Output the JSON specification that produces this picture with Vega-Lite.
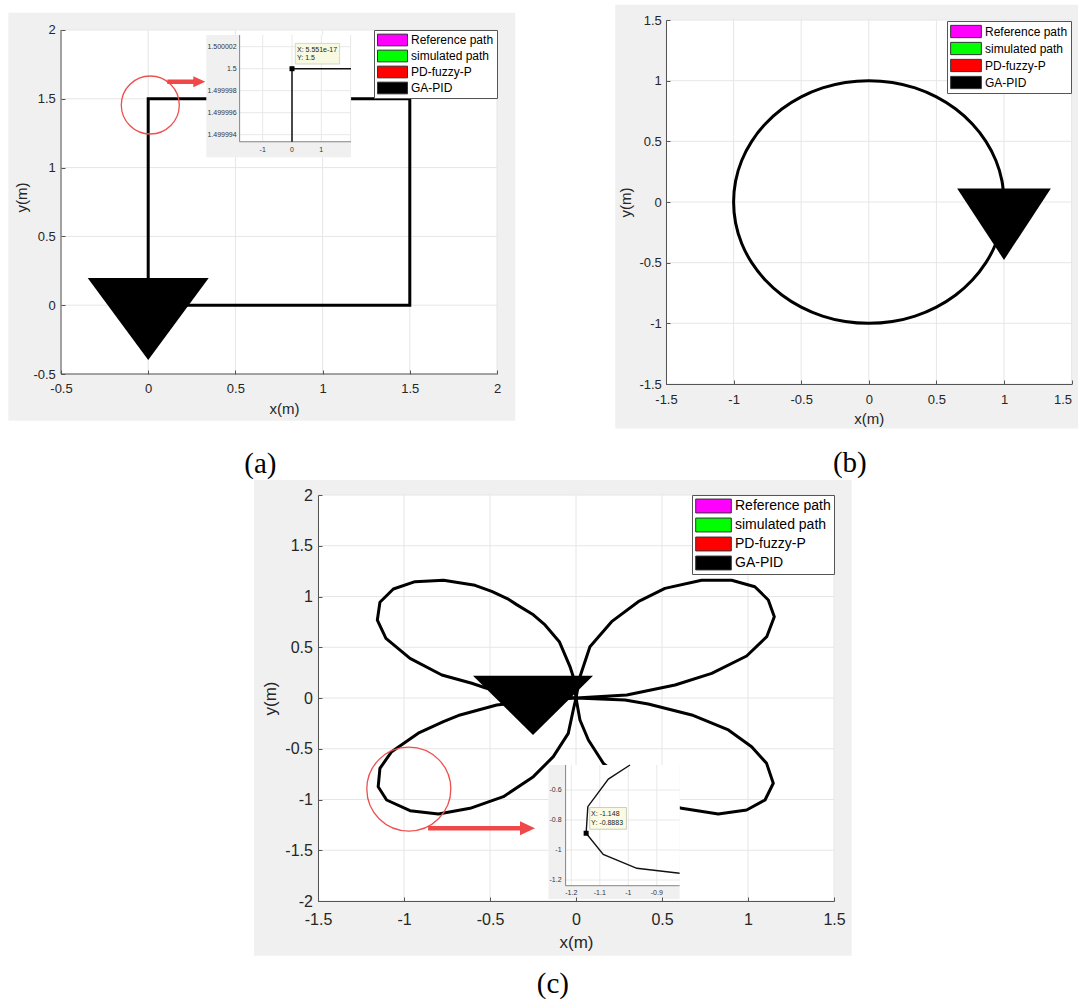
{
"$schema": "https://vega.github.io/schema/vega-lite/v6.json",
"background": "white",
"padding": {"left": 8, "top": 4, "right": 0, "bottom": 0},
"config": {"view": {"stroke": null}},
"spacing": 0,
"resolve": {"scale": {"color": "independent"}, "legend": {"color": "independent"}},
"vconcat": [
{
"hconcat": [
{
"width": 446, "height": 354,
"title": {"text": "(a)", "orient": "bottom", "anchor": "middle", "frame": "bounds", "font": "Liberation Serif", "fontSize": 29, "fontWeight": "normal", "color": "black", "offset": 29, "dx": -1.5},
"resolve": {"scale": {"x": "independent", "y": "independent"}},
"layer": [
{"layer": [
{"data": {"values": [{}]}, "mark": {"type": "rect", "color": "#f0f0f0"},
 "encoding": {
  "x": {"datum": -0.802, "type": "quantitative", "scale": {"domain": [-0.5, 2.05734], "nice": false, "zero": false},
   "axis": {"title": "x(m)", "values": [-0.5, 0, 0.5, 1, 1.5, 2], "labelExpr": "toString(datum.value)", "grid": false, "domain": false, "tickColor": "#555", "tickWidth": 1, "tickSize": -4, "labelPadding": 12.4, "labelFont": "Liberation Sans", "labelFontSize": 13, "labelColor": "#262626", "labelFlush": false, "labelOverlap": false, "titleFont": "Liberation Sans", "titleFontSize": 15, "titleFontWeight": "normal", "titleColor": "#262626", "titlePadding": 6, "zindex": 1}},
  "x2": {"datum": 2.105},
  "y": {"datum": -0.839, "type": "quantitative", "scale": {"domain": [-0.5, 2.07267], "nice": false, "zero": false},
   "axis": {"title": "y(m)", "values": [-0.5, 0, 0.5, 1, 1.5, 2], "labelExpr": "toString(datum.value)", "grid": false, "domain": false, "tickColor": "#555", "tickWidth": 1, "tickSize": -4, "labelPadding": 9.7, "labelFont": "Liberation Sans", "labelFontSize": 13, "labelColor": "#262626", "labelFlush": false, "labelOverlap": false, "titleFont": "Liberation Sans", "titleFontSize": 15, "titleFontWeight": "normal", "titleColor": "#262626", "titlePadding": 3.5, "zindex": 1}},
  "y2": {"datum": 2.126}}},
{"data": {"values": [{}]}, "mark": {"type": "rect", "color": "white"},
 "encoding": {"x": {"datum": -0.5, "type": "quantitative"}, "x2": {"datum": 2}, "y": {"datum": -0.5, "type": "quantitative"}, "y2": {"datum": 2}}},
{"data": {"values": [{"t": -0.5}, {"t": 0}, {"t": 0.5}, {"t": 1}, {"t": 1.5}, {"t": 2}]}, "mark": {"type": "rule", "color": "#e6e6e6", "strokeWidth": 1},
 "encoding": {"x": {"field": "t", "type": "quantitative"}, "y": {"datum": -0.5, "type": "quantitative"}, "y2": {"datum": 2}}},
{"data": {"values": [{"t": -0.5}, {"t": 0}, {"t": 0.5}, {"t": 1}, {"t": 1.5}, {"t": 2}]}, "mark": {"type": "rule", "color": "#e6e6e6", "strokeWidth": 1},
 "encoding": {"y": {"field": "t", "type": "quantitative"}, "x": {"datum": -0.5, "type": "quantitative"}, "x2": {"datum": 2}}},
{"data": {"values": [{}]}, "mark": {"type": "rule", "color": "#555", "strokeWidth": 1},
 "encoding": {"x": {"datum": -0.5, "type": "quantitative"}, "y": {"datum": -0.5, "type": "quantitative"}, "y2": {"datum": 2}}},
{"data": {"values": [{}]}, "mark": {"type": "rule", "color": "#555", "strokeWidth": 1},
 "encoding": {"y": {"datum": -0.5, "type": "quantitative"}, "x": {"datum": -0.5, "type": "quantitative"}, "x2": {"datum": 2}}},
{"data": {"values": [{"i": 0, "x": 0, "y": 0}, {"i": 1, "x": 0, "y": 1.5}, {"i": 2, "x": 1.5, "y": 1.5}, {"i": 3, "x": 1.5, "y": 0}, {"i": 4, "x": 0, "y": 0}]},
 "mark": {"type": "line", "color": "black", "strokeWidth": 3, "strokeJoin": "miter"},
 "encoding": {"x": {"field": "x", "type": "quantitative"}, "y": {"field": "y", "type": "quantitative"}, "order": {"field": "i"}}},
{"data": {"values": [{"x": 0, "y": 0, "series": "GA-PID"}]},
 "mark": {"type": "point", "shape": "M-1,-0.45L1,-0.45L0,0.906Z", "size": 14641, "filled": true, "opacity": 1},
 "encoding": {"x": {"field": "x", "type": "quantitative"}, "y": {"field": "y", "type": "quantitative"},
  "color": {"field": "series", "type": "nominal",
   "scale": {"domain": ["Reference path", "simulated path", "PD-fuzzy-P", "GA-PID"], "range": ["#ff00ff", "#00ff00", "#ff0000", "#000000"]},
   "legend": {"title": null, "orient": "top-right", "offset": 10, "zindex": 1, "padding": 3, "strokeColor": "#555", "fillColor": "white", "cornerRadius": 0,
    "symbolType": "M-1,-0.39L1,-0.39L1,0.39L-1,0.39Z", "symbolSize": 900, "symbolStrokeColor": "#333", "symbolStrokeWidth": 1, "symbolOpacity": 1,
    "clipHeight": 14, "rowPadding": 2, "labelFont": "Liberation Sans", "labelFontSize": 12, "labelColor": "black", "labelOffset": 3, "labelLimit": 300,
    "encode": {"symbols": {"update": {"shape": {"value": "M-1,-0.39L1,-0.39L1,0.39L-1,0.39Z"}, "size": {"value": 900}, "stroke": {"value": "#333"}, "strokeWidth": {"value": 1}, "opacity": {"value": 1}}}}}}}},
{"data": {"values": [{}]}, "mark": {"type": "point", "shape": "circle", "size": 3364, "filled": false, "color": "#ef4f4f", "strokeWidth": 1.3, "opacity": 1},
 "encoding": {"x": {"datum": 0.012, "type": "quantitative"}, "y": {"datum": 1.455, "type": "quantitative"}}},
{"data": {"values": [{}]}, "mark": {"type": "rule", "color": "#f04848", "strokeWidth": 4.5},
 "encoding": {"x": {"datum": 0.1095, "type": "quantitative"}, "x2": {"datum": 0.264}, "y": {"datum": 1.624, "type": "quantitative"}}},
{"data": {"values": [{}]}, "mark": {"type": "point", "shape": "M-1,-0.9L1,0L-1,0.9Z", "size": 144, "filled": true, "color": "#f04848", "opacity": 1},
 "encoding": {"x": {"datum": 0.293, "type": "quantitative"}, "y": {"datum": 1.624, "type": "quantitative"}}}
]},
{"layer": [
{"data": {"values": [{}]}, "mark": {"type": "rect", "color": "#f0f0f0"},
 "encoding": {
  "x": {"datum": -2.925, "type": "quantitative", "scale": {"domain": [-7.884, 7.338], "nice": false, "zero": false}, "axis": null},
  "x2": {"datum": 2.014},
  "y": {"datum": 1.49999194, "type": "quantitative", "scale": {"domain": [1.4999722455, 1.5000044273], "nice": false, "zero": false}, "axis": null},
  "y2": {"datum": 1.50000306}}},
{"data": {"values": [{}]}, "mark": {"type": "rect", "color": "white"},
 "encoding": {"x": {"datum": -1.788, "type": "quantitative", "axis": null}, "x2": {"datum": 2.014}, "y": {"datum": 1.49999336, "type": "quantitative", "axis": null}, "y2": {"datum": 1.50000306}}},
{"data": {"values": [{"t": -1}, {"t": 0}, {"t": 1}, {"t": 2}]}, "mark": {"type": "rule", "color": "#e8e8e8", "strokeWidth": 1},
 "encoding": {"x": {"field": "t", "type": "quantitative", "axis": null}, "y": {"datum": 1.49999336, "type": "quantitative", "axis": null}, "y2": {"datum": 1.50000306}}},
{"data": {"values": [{"t": 1.499994}, {"t": 1.499996}, {"t": 1.499998}, {"t": 1.5}, {"t": 1.500002}]}, "mark": {"type": "rule", "color": "#e8e8e8", "strokeWidth": 1},
 "encoding": {"y": {"field": "t", "type": "quantitative", "axis": null}, "x": {"datum": -1.788, "type": "quantitative", "axis": null}, "x2": {"datum": 2.014}}},
{"data": {"values": [{}]}, "mark": {"type": "rule", "color": "#666", "strokeWidth": 0.8},
 "encoding": {"x": {"datum": -1.788, "type": "quantitative", "axis": null}, "y": {"datum": 1.49999336, "type": "quantitative", "axis": null}, "y2": {"datum": 1.50000306}}},
{"data": {"values": [{}]}, "mark": {"type": "rule", "color": "#666", "strokeWidth": 0.8},
 "encoding": {"y": {"datum": 1.49999336, "type": "quantitative", "axis": null}, "x": {"datum": -1.788, "type": "quantitative", "axis": null}, "x2": {"datum": 2.014}}},
{"data": {"values": [{"t": 1.500002, "lab": "1.500002"}, {"t": 1.5, "lab": "1.5"}, {"t": 1.499998, "lab": "1.499998"}, {"t": 1.499996, "lab": "1.499996"}, {"t": 1.499994, "lab": "1.499994"}]},
 "mark": {"type": "text", "align": "right", "baseline": "middle", "dx": -3, "font": "Liberation Sans", "fontSize": 7, "color": "#333"},
 "encoding": {"y": {"field": "t", "type": "quantitative", "axis": null}, "x": {"datum": -1.788, "type": "quantitative", "axis": null}, "text": {"field": "lab"}}},
{"data": {"values": [{"t": -1, "lab": "-1"}, {"t": 0, "lab": "0"}, {"t": 1, "lab": "1"}]},
 "mark": {"type": "text", "align": "center", "baseline": "top", "dy": 4, "font": "Liberation Sans", "fontSize": 7, "color": "#333"},
 "encoding": {"x": {"field": "t", "type": "quantitative", "axis": null}, "y": {"datum": 1.49999336, "type": "quantitative", "axis": null}, "text": {"field": "lab"}}},
{"data": {"values": [{"i": 0, "x": 0, "y": 1.49999336}, {"i": 1, "x": 0, "y": 1.5}, {"i": 2, "x": 2.014, "y": 1.5}]},
 "mark": {"type": "line", "color": "#111", "strokeWidth": 1.5},
 "encoding": {"x": {"field": "x", "type": "quantitative", "axis": null}, "y": {"field": "y", "type": "quantitative", "axis": null}, "order": {"field": "i"}}},
{"data": {"values": [{"x": 0, "y": 1.5}]},
 "mark": {"type": "point", "shape": "M0.33,-2.53L4.76,-2.53L4.76,-0.47L0.33,-0.47Z", "size": 400, "filled": true, "fill": "#f7f9e1", "stroke": "#c8c8b4", "strokeWidth": 0.7, "opacity": 1},
 "encoding": {"x": {"field": "x", "type": "quantitative", "axis": null}, "y": {"field": "y", "type": "quantitative", "axis": null}}},
{"data": {"values": [{"x": 0, "y": 1.5}]},
 "mark": {"type": "point", "shape": "square", "size": 25, "filled": true, "color": "black", "opacity": 1},
 "encoding": {"x": {"field": "x", "type": "quantitative", "axis": null}, "y": {"field": "y", "type": "quantitative", "axis": null}}},
{"data": {"values": [{"x": 0, "y": 1.5, "lab": "X: 5.551e-17"}]},
 "mark": {"type": "text", "align": "left", "baseline": "middle", "dx": 5, "dy": -19, "font": "Liberation Sans", "fontSize": 7, "color": "#222"},
 "encoding": {"x": {"field": "x", "type": "quantitative", "axis": null}, "y": {"field": "y", "type": "quantitative", "axis": null}, "text": {"field": "lab"}}},
{"data": {"values": [{"x": 0, "y": 1.5, "lab": "Y: 1.5"}]},
 "mark": {"type": "text", "align": "left", "baseline": "middle", "dx": 5, "dy": -10.3, "font": "Liberation Sans", "fontSize": 7, "color": "#222"},
 "encoding": {"x": {"field": "x", "type": "quantitative", "axis": null}, "y": {"field": "y", "type": "quantitative", "axis": null}, "text": {"field": "lab"}}}
]}
]
},
{
"width": 405.6, "height": 364,
"title": {"text": "(b)", "orient": "bottom", "anchor": "middle", "frame": "bounds", "font": "Liberation Serif", "fontSize": 29, "fontWeight": "normal", "color": "black", "offset": 21, "dx": 3},
"layer": [
{"data": {"values": [{}]}, "mark": {"type": "rect", "color": "#f0f0f0"},
 "encoding": {
  "x": {"datum": -1.875, "type": "quantitative", "scale": {"domain": [-1.5, 1.5], "nice": false, "zero": false},
   "axis": {"title": "x(m)", "values": [-1.5, -1, -0.5, 0, 0.5, 1, 1.5], "labelExpr": "toString(datum.value)", "labelAlign": {"condition": {"test": "datum.value >= 1.5", "value": "right"}, "value": "center"}, "grid": false, "domainColor": "#555", "domainWidth": 1, "tickColor": "#555", "tickWidth": 1, "tickSize": -4, "labelPadding": 13, "labelFont": "Liberation Sans", "labelFontSize": 13, "labelColor": "#262626", "labelFlush": false, "labelOverlap": false, "titleFont": "Liberation Sans", "titleFontSize": 15, "titleFontWeight": "normal", "titleColor": "#262626", "titlePadding": 5, "zindex": 1}},
  "x2": {"datum": 1.55},
  "y": {"datum": -1.866, "type": "quantitative", "scale": {"domain": [-1.5, 1.5], "nice": false, "zero": false},
   "axis": {"title": "y(m)", "values": [-1.5, -1, -0.5, 0, 0.5, 1, 1.5], "labelExpr": "toString(datum.value)", "grid": false, "domainColor": "#555", "domainWidth": 1, "tickColor": "#555", "tickWidth": 1, "tickSize": -4, "labelPadding": 8.7, "labelFont": "Liberation Sans", "labelFontSize": 13, "labelColor": "#262626", "labelFlush": false, "labelOverlap": false, "titleFont": "Liberation Sans", "titleFontSize": 15, "titleFontWeight": "normal", "titleColor": "#262626", "titlePadding": 5, "zindex": 1}},
  "y2": {"datum": 1.626}}},
{"data": {"values": [{}]}, "mark": {"type": "rect", "color": "white"},
 "encoding": {"x": {"datum": -1.5, "type": "quantitative"}, "x2": {"datum": 1.5}, "y": {"datum": -1.5, "type": "quantitative"}, "y2": {"datum": 1.5}}},
{"data": {"values": [{"t": -1.5}, {"t": -1}, {"t": -0.5}, {"t": 0}, {"t": 0.5}, {"t": 1}, {"t": 1.5}]}, "mark": {"type": "rule", "color": "#e6e6e6", "strokeWidth": 1},
 "encoding": {"x": {"field": "t", "type": "quantitative"}, "y": {"datum": -1.5, "type": "quantitative"}, "y2": {"datum": 1.5}}},
{"data": {"values": [{"t": -1.5}, {"t": -1}, {"t": -0.5}, {"t": 0}, {"t": 0.5}, {"t": 1}, {"t": 1.5}]}, "mark": {"type": "rule", "color": "#e6e6e6", "strokeWidth": 1},
 "encoding": {"y": {"field": "t", "type": "quantitative"}, "x": {"datum": -1.5, "type": "quantitative"}, "x2": {"datum": 1.5}}},
{"data": {"values": [
 {"i": 0, "x": 1, "y": 0}, {"i": 1, "x": 0.985, "y": 0.174}, {"i": 2, "x": 0.94, "y": 0.342}, {"i": 3, "x": 0.866, "y": 0.5},
 {"i": 4, "x": 0.766, "y": 0.643}, {"i": 5, "x": 0.643, "y": 0.766}, {"i": 6, "x": 0.5, "y": 0.866}, {"i": 7, "x": 0.342, "y": 0.94},
 {"i": 8, "x": 0.174, "y": 0.985}, {"i": 9, "x": 0, "y": 1}, {"i": 10, "x": -0.174, "y": 0.985}, {"i": 11, "x": -0.342, "y": 0.94},
 {"i": 12, "x": -0.5, "y": 0.866}, {"i": 13, "x": -0.643, "y": 0.766}, {"i": 14, "x": -0.766, "y": 0.643}, {"i": 15, "x": -0.866, "y": 0.5},
 {"i": 16, "x": -0.94, "y": 0.342}, {"i": 17, "x": -0.985, "y": 0.174}, {"i": 18, "x": -1, "y": 0}, {"i": 19, "x": -0.985, "y": -0.174},
 {"i": 20, "x": -0.94, "y": -0.342}, {"i": 21, "x": -0.866, "y": -0.5}, {"i": 22, "x": -0.766, "y": -0.643}, {"i": 23, "x": -0.643, "y": -0.766},
 {"i": 24, "x": -0.5, "y": -0.866}, {"i": 25, "x": -0.342, "y": -0.94}, {"i": 26, "x": -0.174, "y": -0.985}, {"i": 27, "x": 0, "y": -1},
 {"i": 28, "x": 0.174, "y": -0.985}, {"i": 29, "x": 0.342, "y": -0.94}, {"i": 30, "x": 0.5, "y": -0.866}, {"i": 31, "x": 0.643, "y": -0.766},
 {"i": 32, "x": 0.766, "y": -0.643}, {"i": 33, "x": 0.866, "y": -0.5}, {"i": 34, "x": 0.94, "y": -0.342}, {"i": 35, "x": 0.985, "y": -0.174},
 {"i": 36, "x": 1, "y": 0}]},
 "mark": {"type": "line", "color": "black", "strokeWidth": 3, "interpolate": "catmull-rom"},
 "encoding": {"x": {"field": "x", "type": "quantitative"}, "y": {"field": "y", "type": "quantitative"}, "order": {"field": "i"}}},
{"data": {"values": [{"x": 1, "y": -0.085, "series": "GA-PID"}]},
 "mark": {"type": "point", "shape": "M-1,-0.51L1,-0.51L0,1.018Z", "size": 8780, "filled": true, "opacity": 1},
 "encoding": {"x": {"field": "x", "type": "quantitative"}, "y": {"field": "y", "type": "quantitative"},
  "color": {"field": "series", "type": "nominal",
   "scale": {"domain": ["Reference path", "simulated path", "PD-fuzzy-P", "GA-PID"], "range": ["#ff00ff", "#00ff00", "#ff0000", "#000000"]},
   "legend": {"title": null, "orient": "top-right", "offset": 1, "zindex": 1, "padding": 3, "strokeColor": "#555", "fillColor": "white", "cornerRadius": 0,
    "symbolType": "M-1,-0.4L1,-0.4L1,0.4L-1,0.4Z", "symbolSize": 942, "symbolStrokeColor": "#333", "symbolStrokeWidth": 1, "symbolOpacity": 1,
    "clipHeight": 15, "rowPadding": 2, "labelFont": "Liberation Sans", "labelFontSize": 12, "labelColor": "black", "labelOffset": 3, "labelLimit": 300,
    "encode": {"symbols": {"update": {"shape": {"value": "M-1,-0.4L1,-0.4L1,0.4L-1,0.4Z"}, "size": {"value": 942}, "stroke": {"value": "#333"}, "strokeWidth": {"value": 1}, "opacity": {"value": 1}}}}}}}}
]
}
],
"spacing": 99,
"resolve": {"scale": {"color": "independent"}, "legend": {"color": "independent"}}
},
{
"hconcat": [
{"width": 193, "height": 20, "data": {"values": [{}]}, "mark": {"type": "rect", "opacity": 0}, "encoding": {}},
{
"width": 516, "height": 406,
"title": {"text": "(c)", "orient": "bottom", "anchor": "middle", "frame": "bounds", "font": "Liberation Serif", "fontSize": 29, "fontWeight": "normal", "color": "black", "offset": 14.7, "dx": 0},
"resolve": {"scale": {"x": "independent", "y": "independent"}},
"layer": [
{"layer": [
{"data": {"values": [{}]}, "mark": {"type": "rect", "color": "#f0f0f0"},
 "encoding": {
  "x": {"datum": -1.872, "type": "quantitative", "scale": {"domain": [-1.5, 1.5], "nice": false, "zero": false},
   "axis": {"title": "x(m)", "values": [-1.5, -1, -0.5, 0, 0.5, 1, 1.5], "labelExpr": "toString(datum.value)", "grid": false, "domainColor": "#555", "domainWidth": 1, "tickColor": "#555", "tickWidth": 1, "tickSize": -4, "labelPadding": 14.5, "labelFont": "Liberation Sans", "labelFontSize": 16, "labelColor": "#262626", "labelFlush": false, "labelOverlap": false, "titleFont": "Liberation Sans", "titleFontSize": 17, "titleFontWeight": "normal", "titleColor": "#262626", "titlePadding": 6.5, "zindex": 1}},
  "x2": {"datum": 1.603},
  "y": {"datum": -2.539, "type": "quantitative", "scale": {"domain": [-2, 2], "nice": false, "zero": false},
   "axis": {"title": "y(m)", "values": [-2, -1.5, -1, -0.5, 0, 0.5, 1, 1.5, 2], "labelExpr": "toString(datum.value)", "grid": false, "domainColor": "#555", "domainWidth": 1, "tickColor": "#555", "tickWidth": 1, "tickSize": -4, "labelPadding": 9.6, "labelFont": "Liberation Sans", "labelFontSize": 16, "labelColor": "#262626", "labelFlush": false, "labelOverlap": false, "titleFont": "Liberation Sans", "titleFontSize": 17, "titleFontWeight": "normal", "titleColor": "#262626", "titlePadding": 5.5, "zindex": 1}},
  "y2": {"datum": 2.148}}},
{"data": {"values": [{}]}, "mark": {"type": "rect", "color": "white"},
 "encoding": {"x": {"datum": -1.5, "type": "quantitative"}, "x2": {"datum": 1.5}, "y": {"datum": -2, "type": "quantitative"}, "y2": {"datum": 2}}},
{"data": {"values": [{"t": -1.5}, {"t": -1}, {"t": -0.5}, {"t": 0}, {"t": 0.5}, {"t": 1}, {"t": 1.5}]}, "mark": {"type": "rule", "color": "#e6e6e6", "strokeWidth": 1},
 "encoding": {"x": {"field": "t", "type": "quantitative"}, "y": {"datum": -2, "type": "quantitative"}, "y2": {"datum": 2}}},
{"data": {"values": [{"t": -2}, {"t": -1.5}, {"t": -1}, {"t": -0.5}, {"t": 0}, {"t": 0.5}, {"t": 1}, {"t": 1.5}, {"t": 2}]}, "mark": {"type": "rule", "color": "#e6e6e6", "strokeWidth": 1},
 "encoding": {"y": {"field": "t", "type": "quantitative"}, "x": {"datum": -1.5, "type": "quantitative"}, "x2": {"datum": 1.5}}},
{"data": {"values": [
 {"i": 1, "x": 0, "y": 0}, {"i": 2, "x": 0.023, "y": 0.21}, {"i": 3, "x": 0.081, "y": 0.505}, {"i": 4, "x": 0.207, "y": 0.752},
 {"i": 5, "x": 0.362, "y": 0.949}, {"i": 6, "x": 0.517, "y": 1.08}, {"i": 7, "x": 0.73, "y": 1.16}, {"i": 8, "x": 0.905, "y": 1.16},
 {"i": 9, "x": 1.04, "y": 1.096}, {"i": 10, "x": 1.118, "y": 0.966}, {"i": 11, "x": 1.153, "y": 0.801}, {"i": 12, "x": 1.109, "y": 0.604},
 {"i": 13, "x": 0.992, "y": 0.414}, {"i": 14, "x": 0.789, "y": 0.243}, {"i": 15, "x": 0.576, "y": 0.128}, {"i": 16, "x": 0.295, "y": 0.03},
 {"i": 17, "x": 0, "y": 0}, {"i": 18, "x": 0.285, "y": -0.02}, {"i": 19, "x": 0.42, "y": -0.059}, {"i": 20, "x": 0.673, "y": -0.167},
 {"i": 21, "x": 0.886, "y": -0.315}, {"i": 22, "x": 1.021, "y": -0.48}, {"i": 23, "x": 1.108, "y": -0.644}, {"i": 24, "x": 1.147, "y": -0.84},
 {"i": 25, "x": 1.099, "y": -1.005}, {"i": 26, "x": 0.992, "y": -1.103}, {"i": 27, "x": 0.827, "y": -1.143}, {"i": 28, "x": 0.614, "y": -1.087},
 {"i": 29, "x": 0.42, "y": -0.97}, {"i": 30, "x": 0.27, "y": -0.8}, {"i": 31, "x": 0.159, "y": -0.644}, {"i": 32, "x": 0.072, "y": -0.414},
 {"i": 33, "x": 0.023, "y": -0.217}, {"i": 34, "x": 0, "y": 0}, {"i": 35, "x": -0.016, "y": -0.118}, {"i": 36, "x": -0.045, "y": -0.348},
 {"i": 37, "x": -0.132, "y": -0.578}, {"i": 38, "x": -0.248, "y": -0.775}, {"i": 39, "x": -0.422, "y": -0.972}, {"i": 40, "x": -0.616, "y": -1.087},
 {"i": 41, "x": -0.8, "y": -1.143}, {"i": 42, "x": -0.965, "y": -1.11}, {"i": 43, "x": -1.101, "y": -1.005}, {"i": 44, "x": -1.15, "y": -0.874},
 {"i": 45, "x": -1.14, "y": -0.693}, {"i": 46, "x": -1.072, "y": -0.529}, {"i": 47, "x": -0.917, "y": -0.347}, {"i": 48, "x": -0.771, "y": -0.233},
 {"i": 49, "x": -0.674, "y": -0.167}, {"i": 50, "x": -0.461, "y": -0.069}, {"i": 51, "x": -0.25, "y": -0.03}, {"i": 52, "x": 0, "y": 0},
 {"i": 53, "x": -0.25, "y": 0.045}, {"i": 54, "x": -0.52, "y": 0.096}, {"i": 55, "x": -0.606, "y": 0.145}, {"i": 56, "x": -0.78, "y": 0.227},
 {"i": 57, "x": -0.965, "y": 0.39}, {"i": 58, "x": -1.105, "y": 0.588}, {"i": 59, "x": -1.155, "y": 0.768}, {"i": 60, "x": -1.14, "y": 0.943},
 {"i": 61, "x": -1.062, "y": 1.074}, {"i": 62, "x": -0.936, "y": 1.146}, {"i": 63, "x": -0.77, "y": 1.16}, {"i": 64, "x": -0.587, "y": 1.11},
 {"i": 65, "x": -0.49, "y": 1.05}, {"i": 66, "x": -0.4, "y": 0.98}, {"i": 67, "x": -0.345, "y": 0.92}, {"i": 68, "x": -0.248, "y": 0.82},
 {"i": 69, "x": -0.18, "y": 0.72}, {"i": 70, "x": -0.097, "y": 0.555}, {"i": 71, "x": -0.035, "y": 0.31}, {"i": 72, "x": -0.016, "y": 0.21},
 {"i": 73, "x": 0, "y": 0}]},
 "mark": {"type": "line", "color": "black", "strokeWidth": 3, "strokeJoin": "round"},
 "encoding": {"x": {"field": "x", "type": "quantitative"}, "y": {"field": "y", "type": "quantitative"}, "order": {"field": "i"}}},
{"data": {"values": [{"x": -0.25, "y": 0.025, "series": "GA-PID"}]},
 "mark": {"type": "point", "shape": "M-1,-0.329L1,-0.329L0,0.659Z", "size": 14400, "filled": true, "opacity": 1},
 "encoding": {"x": {"field": "x", "type": "quantitative"}, "y": {"field": "y", "type": "quantitative"},
  "color": {"field": "series", "type": "nominal",
   "scale": {"domain": ["Reference path", "simulated path", "PD-fuzzy-P", "GA-PID"], "range": ["#ff00ff", "#00ff00", "#ff0000", "#000000"]},
   "legend": {"title": null, "orient": "top-right", "offset": 0, "zindex": 1, "padding": 3, "strokeColor": "#555", "fillColor": "white", "cornerRadius": 0,
    "symbolType": "M-1,-0.39L1,-0.39L1,0.39L-1,0.39Z", "symbolSize": 1267, "symbolStrokeColor": "#333", "symbolStrokeWidth": 1, "symbolOpacity": 1,
    "clipHeight": 16, "rowPadding": 3, "labelFont": "Liberation Sans", "labelFontSize": 14, "labelColor": "black", "labelOffset": 3, "labelLimit": 300,
    "encode": {"symbols": {"update": {"shape": {"value": "M-1,-0.39L1,-0.39L1,0.39L-1,0.39Z"}, "size": {"value": 1267}, "stroke": {"value": "#333"}, "strokeWidth": {"value": 1}, "opacity": {"value": 1}}}}}}}},
{"data": {"values": [{}]}, "mark": {"type": "point", "shape": "circle", "size": 7056, "filled": false, "color": "#ef4f4f", "strokeWidth": 1.3, "opacity": 1},
 "encoding": {"x": {"datum": -0.972, "type": "quantitative"}, "y": {"datum": -0.897, "type": "quantitative"}}},
{"data": {"values": [{}]}, "mark": {"type": "rule", "color": "#f04848", "strokeWidth": 4.5},
 "encoding": {"x": {"datum": -0.86, "type": "quantitative"}, "x2": {"datum": -0.32}, "y": {"datum": -1.284, "type": "quantitative"}}},
{"data": {"values": [{}]}, "mark": {"type": "point", "shape": "M-1,-0.93L1,0L-1,0.93Z", "size": 225, "filled": true, "color": "#f04848", "opacity": 1},
 "encoding": {"x": {"datum": -0.282, "type": "quantitative"}, "y": {"datum": -1.284, "type": "quantitative"}}}
]},
{"layer": [
{"data": {"values": [{}]}, "mark": {"type": "rect", "color": "#f0f0f0"},
 "encoding": {
  "x": {"datum": -1.2804, "type": "quantitative", "scale": {"domain": [-2.0888, -0.27825], "nice": false, "zero": false}, "axis": null},
  "x2": {"datum": -0.82},
  "y": {"datum": -1.3267, "type": "quantitative", "scale": {"domain": [-1.34, 1.36667], "nice": false, "zero": false}, "axis": null},
  "y2": {"datum": -0.4333}}},
{"data": {"values": [{}]}, "mark": {"type": "rect", "color": "white"},
 "encoding": {"x": {"datum": -1.22, "type": "quantitative", "axis": null}, "x2": {"datum": -0.82}, "y": {"datum": -1.238, "type": "quantitative", "axis": null}, "y2": {"datum": -0.4333}}},
{"data": {"values": [{"t": -1.2}, {"t": -1.1}, {"t": -1}, {"t": -0.9}]}, "mark": {"type": "rule", "color": "#e8e8e8", "strokeWidth": 1},
 "encoding": {"x": {"field": "t", "type": "quantitative", "axis": null}, "y": {"datum": -1.238, "type": "quantitative", "axis": null}, "y2": {"datum": -0.4333}}},
{"data": {"values": [{"t": -0.6}, {"t": -0.8}, {"t": -1}, {"t": -1.2}]}, "mark": {"type": "rule", "color": "#e8e8e8", "strokeWidth": 1},
 "encoding": {"y": {"field": "t", "type": "quantitative", "axis": null}, "x": {"datum": -1.22, "type": "quantitative", "axis": null}, "x2": {"datum": -0.82}}},
{"data": {"values": [{}]}, "mark": {"type": "rule", "color": "#666", "strokeWidth": 0.8},
 "encoding": {"x": {"datum": -1.22, "type": "quantitative", "axis": null}, "y": {"datum": -1.238, "type": "quantitative", "axis": null}, "y2": {"datum": -0.4333}}},
{"data": {"values": [{}]}, "mark": {"type": "rule", "color": "#666", "strokeWidth": 0.8},
 "encoding": {"y": {"datum": -1.238, "type": "quantitative", "axis": null}, "x": {"datum": -1.22, "type": "quantitative", "axis": null}, "x2": {"datum": -0.82}}},
{"data": {"values": [{"t": -0.6, "lab": "-0.6"}, {"t": -0.8, "lab": "-0.8"}, {"t": -1, "lab": "-1"}, {"t": -1.2, "lab": "-1.2"}]},
 "mark": {"type": "text", "align": "right", "baseline": "middle", "dx": -4, "font": "Liberation Sans", "fontSize": 7, "color": "#333"},
 "encoding": {"y": {"field": "t", "type": "quantitative", "axis": null}, "x": {"datum": -1.22, "type": "quantitative", "axis": null}, "text": {"field": "lab"}}},
{"data": {"values": [{"t": -1.2, "lab": "-1.2"}, {"t": -1.1, "lab": "-1.1"}, {"t": -1, "lab": "-1"}, {"t": -0.9, "lab": "-0.9"}]},
 "mark": {"type": "text", "align": "center", "baseline": "top", "dy": 3, "font": "Liberation Sans", "fontSize": 7, "color": "#333"},
 "encoding": {"x": {"field": "t", "type": "quantitative", "axis": null}, "y": {"datum": -1.238, "type": "quantitative", "axis": null}, "text": {"field": "lab"}}},
{"data": {"values": [{"i": 0, "x": -0.994, "y": -0.4333}, {"i": 1, "x": -1.07, "y": -0.527}, {"i": 2, "x": -1.142, "y": -0.711}, {"i": 3, "x": -1.148, "y": -0.8883}, {"i": 4, "x": -1.088, "y": -1.029}, {"i": 5, "x": -0.97, "y": -1.122}, {"i": 6, "x": -0.82, "y": -1.155}]},
 "mark": {"type": "line", "color": "#111", "strokeWidth": 1.4},
 "encoding": {"x": {"field": "x", "type": "quantitative", "axis": null}, "y": {"field": "y", "type": "quantitative", "axis": null}, "order": {"field": "i"}}},
{"data": {"values": [{"x": -1.148, "y": -0.8883}]},
 "mark": {"type": "point", "shape": "M0.36,-2.57L4.03,-2.57L4.03,-0.4L0.36,-0.4Z", "size": 400, "filled": true, "fill": "#fbfbe3", "stroke": "#b8b8a8", "strokeWidth": 0.7, "opacity": 1},
 "encoding": {"x": {"field": "x", "type": "quantitative", "axis": null}, "y": {"field": "y", "type": "quantitative", "axis": null}}},
{"data": {"values": [{"x": -1.148, "y": -0.8883}]},
 "mark": {"type": "point", "shape": "square", "size": 25, "filled": true, "color": "black", "opacity": 1},
 "encoding": {"x": {"field": "x", "type": "quantitative", "axis": null}, "y": {"field": "y", "type": "quantitative", "axis": null}}},
{"data": {"values": [{"x": -1.148, "y": -0.8883, "lab": "X: -1.148"}]},
 "mark": {"type": "text", "align": "left", "baseline": "middle", "dx": 5, "dy": -19, "font": "Liberation Sans", "fontSize": 7, "color": "#222"},
 "encoding": {"x": {"field": "x", "type": "quantitative", "axis": null}, "y": {"field": "y", "type": "quantitative", "axis": null}, "text": {"field": "lab"}}},
{"data": {"values": [{"x": -1.148, "y": -0.8883, "lab": "Y: -0.8883"}]},
 "mark": {"type": "text", "align": "left", "baseline": "middle", "dx": 5, "dy": -10, "font": "Liberation Sans", "fontSize": 7, "color": "#222"},
 "encoding": {"x": {"field": "x", "type": "quantitative", "axis": null}, "y": {"field": "y", "type": "quantitative", "axis": null}, "text": {"field": "lab"}}}
]}
]
}
],
"spacing": 0,
"resolve": {"scale": {"color": "independent"}, "legend": {"color": "independent"}}
}
]
}
